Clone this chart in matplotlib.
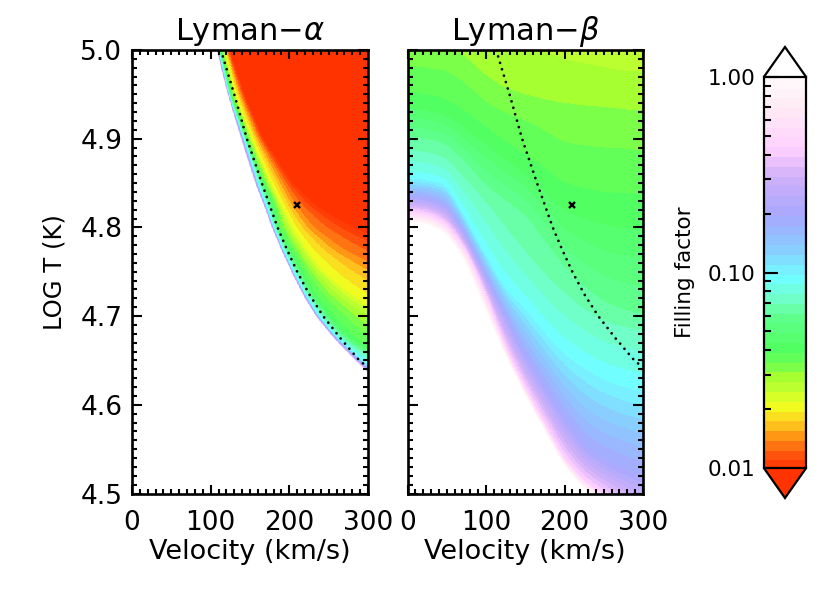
import numpy as np
import matplotlib
matplotlib.use("Agg")
import matplotlib.pyplot as plt
from matplotlib.colors import LinearSegmentedColormap, BoundaryNorm
from matplotlib.ticker import MultipleLocator, FixedLocator, FixedFormatter

plt.rcParams['font.family'] = ['DejaVu Sans']
plt.rcParams['mathtext.fontset'] = 'dejavusans'

# ---------- data ----------
titles = ["Lyman\u2212$\\alpha$", "Lyman\u2212$\\beta$"]
x_ticks = [0, 100, 200, 300]
y_ticks = [4.5, 4.6, 4.7, 4.8, 4.9, 5.0]
cbar_ticks = [0.01, 0.10, 1.00]
cbar_labels = ["0.01", "0.10", "1.00"]
x_label = "Velocity (km/s)"
y_label = "LOG T (K)"
cbar_label = "Filling factor"

# measured point
point_v = 210
point_logt = 4.825

# dotted curve
curve_logt = [5.0, 4.95, 4.9, 4.85, 4.8, 4.775, 4.75, 4.725, 4.7, 4.675, 4.65, 4.645, 4.642]
curve_v = [113, 130, 146, 165, 185, 197, 210, 225, 243, 265, 289, 296, 300]

# Lyman-alpha: velocity of log10(filling factor) isolines along rows of LOG T
alpha_levels = [-2.0, -1.84, -1.667, -1.38, -1.0, -0.5, 0.0]
alpha_logt = [5.05, 5.0, 4.95, 4.9, 4.85, 4.825, 4.8, 4.775, 4.75, 4.725, 4.7, 4.675, 4.65, 4.6]
alpha_v = [
    [105, 103, 101, 97, 95, 94, 93],
    [124, 121, 118, 113, 110, 108, 107],
    [143, 138, 132, 126, 123, 122, 121],
    [167, 161, 153, 146, 142, 139, 138],
    [204, 192, 177, 167, 160, 157, 156],
    [232, 207, 191, 180, 170, 168, 167],
    [280, 228, 205, 186, 180, 178, 177],
    [345, 265, 223, 201, 192, 190, 189],
    [400, 320, 245, 216, 205, 203, 202],
    [460, 380, 280, 230, 220, 217, 216],
    [520, 430, 330, 252, 237, 234, 233],
    [580, 480, 380, 277, 261, 257, 256],
    [640, 530, 430, 330, 292, 285, 283],
    [800, 650, 550, 450, 360, 345, 340],
]

# Lyman-beta: LOG T of log10(filling factor) isolines along columns of velocity
beta_levels = [-1.56, -1.514, -1.463, -1.38, -1.207, -1.14, -1.023, -0.696, -0.358, 0.0]
beta_v = [0, 25, 50, 75, 100, 125, 150, 175, 200, 225, 250, 275, 300]
beta_logt = [
    [5.10, 5.09, 5.08, 5.07, 5.05, 5.03, 5.02, 5.01, 5.00, 4.995, 4.99, 4.985, 4.985],
    [5.05, 5.03, 5.015, 5.00, 4.98, 4.965, 4.957, 4.954, 4.952, 4.95, 4.948, 4.945, 4.944],
    [4.99, 4.988, 4.985, 4.97, 4.948, 4.937, 4.931, 4.92, 4.908, 4.905, 4.903, 4.902, 4.90],
    [4.942, 4.938, 4.932, 4.918, 4.902, 4.885, 4.868, 4.85, 4.831, 4.825, 4.82, 4.818, 4.818],
    [4.905, 4.902, 4.896, 4.875, 4.85, 4.835, 4.82, 4.79, 4.76, 4.737, 4.72, 4.71, 4.705],
    [4.885, 4.882, 4.875, 4.85, 4.825, 4.795, 4.765, 4.74, 4.72, 4.703, 4.69, 4.684, 4.68],
    [4.857, 4.855, 4.85, 4.81, 4.77, 4.733, 4.712, 4.685, 4.662, 4.647, 4.635, 4.627, 4.622],
    [4.835, 4.833, 4.825, 4.79, 4.745, 4.70, 4.655, 4.62, 4.585, 4.553, 4.537, 4.527, 4.519],
    [4.818, 4.816, 4.805, 4.775, 4.725, 4.665, 4.62, 4.58, 4.54, 4.515, 4.50, 4.485, 4.47],
    [4.806, 4.804, 4.793, 4.76, 4.705, 4.655, 4.61, 4.57, 4.53, 4.505, 4.49, 4.47, 4.45],
]

# colour table: log10(filling factor) and colour
cmap_pos = [-2.0, -1.908, -1.857, -1.81, -1.755, -1.667, -1.586, -1.514, -1.463, -1.38,
            -1.207, -1.14, -1.023, -0.85, -0.696, -0.5, -0.358, -0.15, 0.0]
cmap_col = ["#ff3300", "#ff5a10", "#ff8015", "#ffa515", "#ffd020", "#f0ff20", "#c0ff30",
            "#a0ff30", "#70ff50", "#50ff60", "#60ff90", "#70ffc0", "#70ffff", "#8cc8ff",
            "#a8a8ff", "#d0b0f8", "#ffd0ff", "#ffeaf5", "#fffafa"]
n_bands = 40
# -------------------------------------------------

W, H = 830, 593
fig = plt.figure(figsize=(W / 100, H / 100), dpi=100)


def axes_px(x0, x1, y0, y1):
    return fig.add_axes([x0 / W, 1 - y1 / H, (x1 - x0) / W, (y1 - y0) / H])


def smooth(y, n):
    """Three passes of a running mean, keeping the end slopes."""
    pad = 3 * n
    z = np.pad(y, pad, mode="reflect", reflect_type="odd")
    kernel = np.ones(n) / n
    for _ in range(3):
        z = np.convolve(z, kernel, mode="same")
    return z[pad:-pad]


band_edges = np.linspace(-2, 0, n_bands + 1)
base = LinearSegmentedColormap.from_list(
    "fill", [((p + 2) / 2, c) for p, c in zip(cmap_pos, cmap_col)], N=512)
cmap = LinearSegmentedColormap.from_list(
    "bands", base((band_edges[:-1] + band_edges[1:] + 4) / 4), N=n_bands)
cmap.set_under("#ff3300")
cmap.set_over("white")
norm = BoundaryNorm(band_edges, n_bands)

v_fine = np.linspace(0, 300, 601)
t_fine = np.linspace(4.5, 5.0, 801)
t_long = np.linspace(4.5, 5.05, 881)

# Lyman-alpha field from rows of isolines
a_t = np.array(alpha_logt)[::-1]
a_v = np.array(alpha_v, float)[::-1]
a_l = np.array(alpha_levels)
iso = np.array([smooth(np.interp(t_long, a_t, a_v[:, j]), 15) for j in range(a_v.shape[1])])
alpha_field = np.zeros((t_fine.size, v_fine.size))
for i in range(t_fine.size):
    alpha_field[i] = np.interp(v_fine, iso[::-1, i], a_l[::-1], left=0.1, right=-2.1)

# Lyman-beta field from columns of isolines
b_t = np.array(beta_logt, float)
b_l = np.array(beta_levels)
iso_b = np.array([smooth(np.interp(v_fine, beta_v, b_t[k]), 25) for k in range(b_t.shape[0])])
beta_field = np.zeros((t_fine.size, v_fine.size))
for j in range(v_fine.size):
    beta_field[:, j] = np.interp(t_fine, iso_b[::-1, j], b_l[::-1], left=0.1, right=-1.56)

panels = [(axes_px(132, 368, 50, 493.5), alpha_field),
          (axes_px(407.5, 643, 50, 493.5), beta_field)]

for k, (ax, field) in enumerate(panels):
    mesh = ax.pcolormesh(v_fine, t_fine, field, cmap=cmap, norm=norm, shading="auto")
    ax.plot(curve_v, curve_logt, color="black", lw=2.0, dashes=(0.01, 2.4),
            dash_capstyle="round", zorder=5)
    ax.plot([point_v], [point_logt], marker="x", color="black", ms=4.5, mew=1.7, zorder=6)
    ax.set_xlim(0, 300)
    ax.set_ylim(4.5, 5.0)
    ax.set_xticks(x_ticks)
    ax.set_yticks(y_ticks)
    ax.xaxis.set_minor_locator(MultipleLocator(10))
    ax.yaxis.set_minor_locator(MultipleLocator(0.01))
    ax.tick_params(which="major", direction="in", top=True, right=True, width=1.5, length=6.5,
                   labelsize=19, color="black")
    ax.tick_params(axis="x", which="major", pad=12)
    ax.tick_params(axis="y", which="major", length=7, pad=7)
    ax.tick_params(which="minor", direction="in", top=True, right=True, width=1.5, length=3.5)
    for s in ax.spines.values():
        s.set_linewidth(1.9)
    ax.set_xlabel(x_label, fontsize=19.5, labelpad=2)
    ax.set_title(titles[k], fontsize=22, pad=7)
    if k == 0:
        ax.set_ylabel(y_label, fontsize=17.5, labelpad=10)
    else:
        ax.tick_params(axis="y", which="both", labelleft=False)

cax = axes_px(764, 806, 47, 498)
cb = fig.colorbar(mesh, cax=cax, extend="both", extendfrac=0.076,
                  spacing="proportional", drawedges=False)
cax.yaxis.set_ticks_position("left")
major = [np.log10(t) for t in cbar_ticks]
minor = [np.log10(m * d) for d in (0.01, 0.1) for m in range(2, 10)]
cax.yaxis.set_major_locator(FixedLocator(major))
cax.yaxis.set_major_formatter(FixedFormatter(cbar_labels))
cax.yaxis.set_minor_locator(FixedLocator(minor))
cax.tick_params(which="major", direction="in", left=True, right=False, length=10, width=1.5,
                labelsize=15.5, pad=6)
cax.tick_params(which="minor", direction="in", left=True, right=False, length=5, width=1.5)
cb.outline.set_linewidth(1.6)
cb.solids.set_edgecolor("face")
cax.axhline(-2, color="black", lw=1.6, clip_on=False, zorder=10)
cax.axhline(0, color="black", lw=1.6, clip_on=False, zorder=10)
fig.text(685 / W, 1 - 272 / H, cbar_label, rotation=90, fontsize=15.5, ha="center", va="center")

fig.savefig("out.png", dpi=100)
